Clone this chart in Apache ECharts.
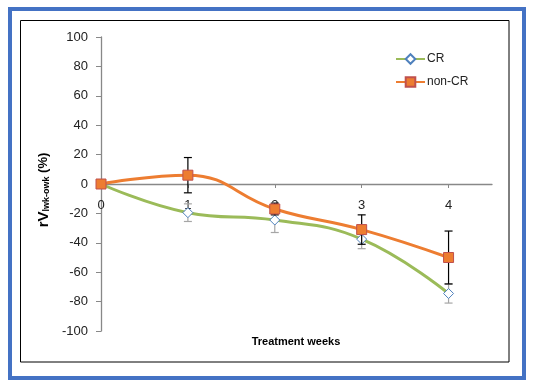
<!DOCTYPE html>
<html>
<head>
<meta charset="utf-8">
<script src="https://cdn.jsdelivr.net/npm/echarts@6/dist/echarts.min.js"></script>
<style>
  html, body { margin: 0; padding: 0; background: #fff; }
  #chart { width: 538px; height: 390px; }
</style>
</head>
<body>
<div id="chart"></div>
<script>
const weeks = [0, 1, 2, 3, 4];
const crValues = [0, -19.5, -24.5, -37.5, -74.5];
const crErrors = [0, 6, 8.5, 6.5, 6.5];
const nonCrValues = [0, 6, -17, -31, -50];
const nonCrErrors = [0, 12, 4, 10, 18];
const yTicks = [-100, -80, -60, -40, -20, 0, 20, 40, 60, 80, 100];

const font = 'Liberation Sans, Arial, sans-serif';

const chart = echarts.init(document.getElementById('chart'));

// vertical error bar with small caps
function errorBar(color) {
    return function (params, api) {
        const x = api.value(0);
        const y = api.value(1);
        const e = api.value(2);
        if (!e) return null;
        const top = api.coord([x, y + e]);
        const bot = api.coord([x, y - e]);
        const w = 4;
        const style = { stroke: color, lineWidth: 1.2 };
        return {
            type: 'group',
            children: [
                { type: 'line', shape: { x1: top[0], y1: top[1], x2: bot[0], y2: bot[1] }, style },
                { type: 'line', shape: { x1: top[0] - w, y1: top[1], x2: top[0] + w, y2: top[1] }, style },
                { type: 'line', shape: { x1: bot[0] - w, y1: bot[1], x2: bot[0] + w, y2: bot[1] }, style }
            ]
        };
    };
}

chart.setOption({
    animation: false,
    textStyle: { fontFamily: font },
    grid: { left: 101, right: 46, top: 37, bottom: 59 },
    graphic: [
        { type: 'rect', shape: { x: 10, y: 9, width: 514, height: 369 }, style: { fill: 'none', stroke: '#4472C4', lineWidth: 4 }, silent: true },
        { type: 'rect', shape: { x: 20.5, y: 20.5, width: 488.5, height: 341.5 }, style: { fill: 'none', stroke: '#000', lineWidth: 1 }, silent: true },
        { type: 'text', x: 296, y: 342, style: { text: 'Treatment weeks', font: 'bold 11px ' + font, fill: '#000', align: 'center', verticalAlign: 'middle' } }
    ],
    legend: {
        orient: 'vertical',
        left: 390,
        top: 48,
        itemWidth: 29,
        itemHeight: 12,
        itemGap: 11,
        textStyle: { fontSize: 12, color: '#222', padding: [0, 0, 0, -3] },
        data: ['CR', 'non-CR']
    },
    xAxis: {
        type: 'value',
        min: 0,
        max: 4.5,
        interval: 1,
        splitLine: { show: false },
        axisLine: { onZero: true, lineStyle: { color: '#888', width: 1.3 } },
        axisTick: { length: 4, customValues: weeks, lineStyle: { color: '#888' } },
        // labels sit just under the zero line, as in the original
        axisLabel: { customValues: weeks, fontSize: 13, color: '#222', margin: -132 }
    },
    yAxis: {
        type: 'value',
        min: yTicks[0],
        max: yTicks[yTicks.length - 1],
        interval: 20,
        splitLine: { show: false },
        axisLine: { show: true, onZero: false, lineStyle: { color: '#888', width: 1.3 } },
        axisTick: { show: true, length: 5, lineStyle: { color: '#888' } },
        axisLabel: { fontSize: 13, color: '#222', margin: 13 },
        name: '{b|rV}{s|lwk-owk}{p| (%)}',
        nameLocation: 'middle',
        nameGap: 47,
        nameTextStyle: {
            padding: [0, 12, 0, 0],
            rich: {
                b: { fontFamily: font, fontWeight: 'bold', fontSize: 15, color: '#000' },
                s: { fontFamily: font, fontWeight: 'bold', fontSize: 9, color: '#000', verticalAlign: 'bottom', padding: [6, 0, 0, 0] },
                p: { fontFamily: font, fontWeight: 'bold', fontSize: 13, color: '#000' }
            }
        }
    },
    series: [
        {
            name: 'CR-err',
            type: 'custom',
            renderItem: errorBar('#A6A6A6'),
            data: weeks.map((w, i) => [w, crValues[i], crErrors[i]]),
            z: 1
        },
        {
            name: 'non-CR-err',
            type: 'custom',
            renderItem: errorBar('#000'),
            data: weeks.map((w, i) => [w, nonCrValues[i], nonCrErrors[i]]),
            z: 3
        },
        {
            name: 'CR',
            type: 'line',
            smooth: 0.45,
            data: weeks.map((w, i) => [w, crValues[i]]),
            symbol: 'diamond',
            symbolSize: 10,
            lineStyle: { color: '#9BBB59', width: 3 },
            itemStyle: { color: '#fff', borderColor: '#4F81BD', borderWidth: 1 },
            z: 2
        },
        {
            name: 'non-CR',
            type: 'line',
            smooth: 0.45,
            data: weeks.map((w, i) => [w, nonCrValues[i]]),
            symbol: 'rect',
            symbolSize: 10,
            lineStyle: { color: '#ED7D31', width: 3 },
            itemStyle: { color: '#ED7D31', borderColor: '#C0504D', borderWidth: 1 },
            z: 4
        }
    ]
});
</script>
</body>
</html>
